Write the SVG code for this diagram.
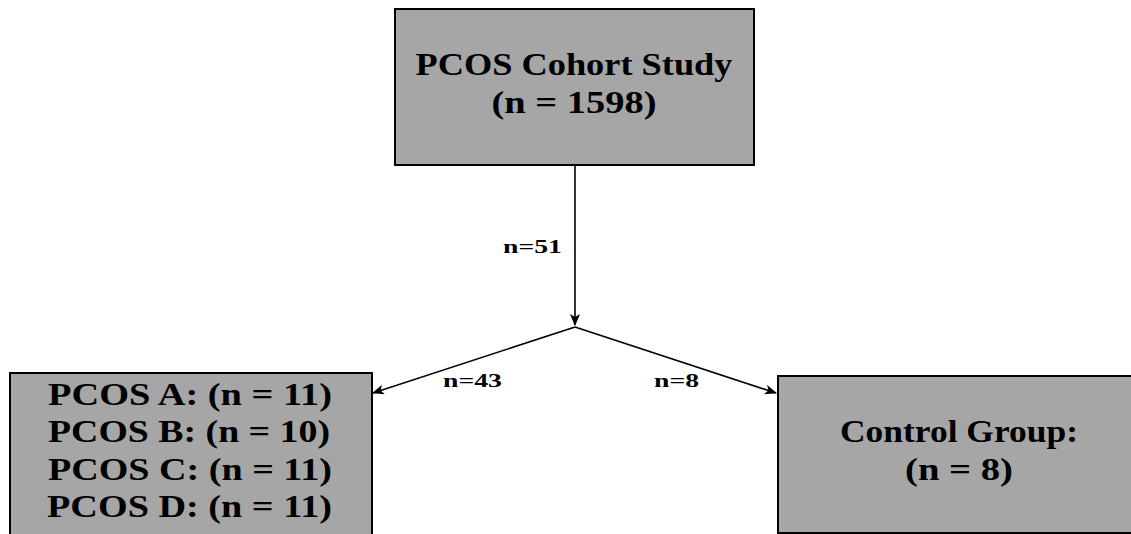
<svg xmlns="http://www.w3.org/2000/svg" width="1131" height="534" viewBox="0 0 1131 534">
<style>
.box{fill:#a6a6a6;stroke:#000;stroke-width:2}
.t{font-family:"Liberation Serif","DejaVu Serif",serif;font-weight:bold;fill:#000;text-anchor:middle}
.big{font-size:32px}
.lbl{font-size:19px}
.edge{fill:none;stroke:#000;stroke-width:1.6}
</style>
<defs>
<marker id="arr" viewBox="0 0 12 10" refX="11" refY="5" markerWidth="12" markerHeight="10" markerUnits="userSpaceOnUse" orient="auto">
<path d="M0,0 L12,5 L0,10 L3,5 Z" fill="#000"/>
</marker>
</defs>
<rect width="1131" height="534" fill="#fff"/>
<g id="cohort">
<rect class="box" x="395" y="9" width="359" height="156"/>
<text class="t big" x="574" y="75" textLength="317" lengthAdjust="spacingAndGlyphs">PCOS Cohort Study</text>
<text class="t big" x="574" y="113" textLength="165" lengthAdjust="spacingAndGlyphs">(n = 1598)</text>
</g>
<g id="pcos">
<rect class="box" x="10" y="373" width="362" height="170"/>
<text class="t big" x="190" y="405" textLength="284" lengthAdjust="spacingAndGlyphs">PCOS A: (n = 11)</text>
<text class="t big" x="189" y="442" textLength="282" lengthAdjust="spacingAndGlyphs">PCOS B: (n = 10)</text>
<text class="t big" x="190" y="480" textLength="284" lengthAdjust="spacingAndGlyphs">PCOS C: (n = 11)</text>
<text class="t big" x="189.5" y="517" textLength="285" lengthAdjust="spacingAndGlyphs">PCOS D: (n = 11)</text>
</g>
<g id="control">
<rect class="box" x="778" y="376" width="362" height="157"/>
<text class="t big" x="959" y="442" textLength="238" lengthAdjust="spacingAndGlyphs">Control Group:</text>
<text class="t big" x="959" y="480" textLength="108" lengthAdjust="spacingAndGlyphs">(n = 8)</text>
</g>
<g id="connectors">
<line class="edge" x1="575" y1="165" x2="575" y2="325" marker-end="url(#arr)"/>
<line class="edge" x1="575" y1="327" x2="373" y2="393" marker-end="url(#arr)"/>
<line class="edge" x1="575" y1="327" x2="776" y2="393" marker-end="url(#arr)"/>
<text class="t lbl" x="532.5" y="253" textLength="59" lengthAdjust="spacingAndGlyphs">n=51</text>
<text class="t lbl" x="472.5" y="387" textLength="59" lengthAdjust="spacingAndGlyphs">n=43</text>
<text class="t lbl" x="676.5" y="387" textLength="45" lengthAdjust="spacingAndGlyphs">n=8</text>
</g>
</svg>
